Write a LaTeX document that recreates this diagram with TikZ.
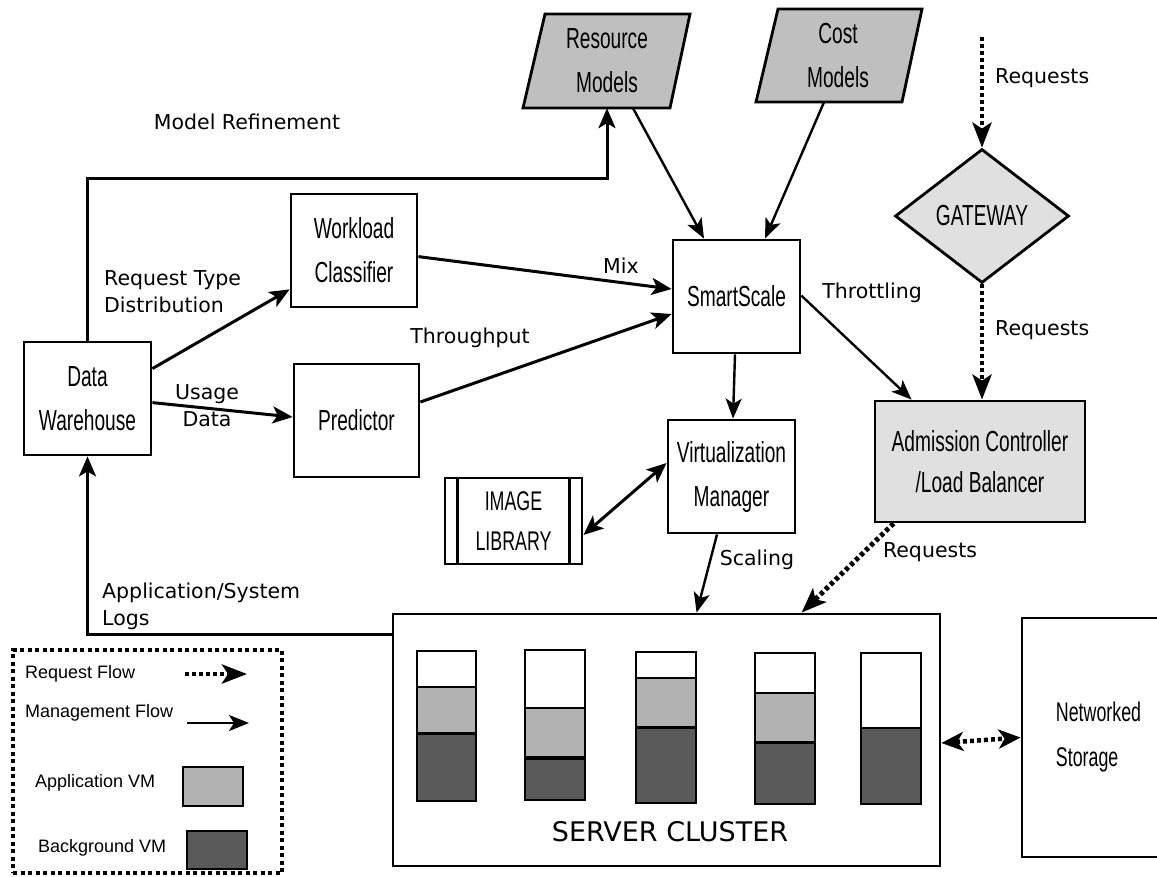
\documentclass[tikz,border=0pt]{standalone}
\usepackage{fontspec}
\setmainfont{DejaVu Sans}
\newfontfamily\nodefont[FakeStretch=0.66]{Liberation Sans}
\newfontfamily\legfont{Liberation Sans}
\usetikzlibrary{arrows.meta,shapes.geometric,calc}
\definecolor{modelgray}{gray}{0.75}
\definecolor{palegray}{gray}{0.88}
\definecolor{appgray}{gray}{0.70}
\definecolor{bggray}{gray}{0.35}
\begin{document}
\begin{tikzpicture}[x=1pt,y=-1pt,
  box/.style={draw, line width=2.8pt, inner sep=0pt, align=center,
    font=\nodefont\fontsize{29}{44}\selectfont},
  txt/.style={inner sep=0pt, align=center, font=\nodefont\fontsize{29}{44}\selectfont},
  lbl/.style={inner sep=0pt, align=left, font=\fontsize{20.5}{27}\selectfont},
  leg/.style={inner sep=0pt, anchor=west, font=\legfont\fontsize{18}{20}\selectfont},
  mgmt/.style={line width=3pt, -{Stealth[length=20pt,width=17pt,inset=5pt]}},
  mgmtthin/.style={line width=2.4pt, -{Stealth[length=20pt,width=16pt,inset=5pt]}},
  req/.style={line width=4.5pt, dash pattern=on 4pt off 3pt, -{Stealth[length=25pt,width=19pt,inset=6pt]}},
  bar/.style={draw, line width=2.5pt},
]
\useasboundingbox (0,0) rectangle (1157,876);

% ---------- model parallelograms ----------
\draw[line width=2.8pt, fill=modelgray] (545,14) -- (690,14) -- (670,108) -- (523,108) -- cycle;
\node[txt, minimum height=94pt] (rm) at (607,61) {Resource\\Models};
\draw[line width=2.8pt, fill=modelgray] (778,9) -- (922,9) -- (902,102) -- (756,102) -- cycle;
\node[txt, minimum height=93pt] (cm) at (838,55.5) {Cost\\Models};

% ---------- boxes ----------
\node[box, minimum width=127pt, minimum height=113pt] (dw) at (87.5,398.5) {Data\\Warehouse};
\node[box, minimum width=126pt, minimum height=113pt] (wc) at (354,250.5) {Workload\\Classifier};
\node[box, minimum width=125pt, minimum height=113pt] (pred) at (356.5,420.5) {Predictor};
\node[box, minimum width=127pt, minimum height=113pt] (ss) at (736.5,296.5) {SmartScale};
\node[box, minimum width=127pt, minimum height=113pt] (vm) at (731.5,476.5) {Virtualization\\Manager};
\node[box, fill=palegray, minimum width=210pt, minimum height=121pt,
  font=\nodefont\fontsize{29}{41}\selectfont] (ac) at (980,461.5) {Admission Controller\\/Load Balancer};
\node[box, minimum width=137pt, minimum height=86pt,
  font=\nodefont\fontsize{27}{40}\selectfont] (il) at (513.5,521) {IMAGE\\LIBRARY};
\draw[line width=2.8pt] ([xshift=14pt]il.north west) -- ([xshift=14pt]il.south west);
\draw[line width=2.8pt] ([xshift=-14pt]il.north east) -- ([xshift=-14pt]il.south east);
\node[diamond, draw, fill=palegray, line width=2.8pt, inner sep=0pt,
  minimum width=174pt, minimum height=134pt,
  font=\nodefont\fontsize{29}{44}\selectfont] (gw) at (982,216) {GATEWAY};
\node[draw, line width=2.8pt, minimum width=547pt, minimum height=252pt] (sc) at (666.5,740) {};
\node[inner sep=0pt, font=\fontsize{27}{30}\selectfont] (sctitle) at (670,832) {SERVER CLUSTER};
\node[box, align=left, minimum width=153pt, minimum height=239pt,
  font=\nodefont\fontsize{27}{45}\selectfont] (ns) at (1098.5,737.5) {Networked\\Storage};

% ---------- server bars ----------
\draw[bar, fill=white]   (417,651) rectangle (476,687);
\draw[bar, fill=appgray] (417,687) rectangle (476,733);
\draw[bar, fill=bggray]  (417,734) rectangle (476,801);
\draw[bar, fill=white]   (525,650) rectangle (585,708);
\draw[bar, fill=appgray] (525,708) rectangle (585,757);
\draw[bar, fill=bggray]  (525,759) rectangle (585,800);
\draw[bar, fill=white]   (636,652) rectangle (696,678);
\draw[bar, fill=appgray] (636,678) rectangle (696,727);
\draw[bar, fill=bggray]  (636,728) rectangle (696,803);
\draw[bar, fill=white]   (755,653) rectangle (815,693);
\draw[bar, fill=appgray] (755,693) rectangle (815,742);
\draw[bar, fill=bggray]  (755,743) rectangle (815,804);
\draw[bar, fill=white]   (861,653) rectangle (921,728);
\draw[bar, fill=bggray]  (861,728) rectangle (921,804);

% ---------- connectors ----------
\coordinate (mrcorner) at (607,178);
\draw[mgmt] (dw.north) |- (mrcorner) -- (rm.south);
\draw[mgmt] ([yshift=-28pt]dw.north east) -- ([yshift=19pt]wc.south west);
\draw[mgmt] ([yshift=-62pt]dw.north east) -- ([yshift=3.5pt]pred.west);
\draw[mgmt] ([yshift=-64pt]wc.north east) -- ([yshift=7.5pt]ss.west);
\draw[mgmt] ([yshift=18.5pt]pred.east) -- ([yshift=-17.5pt]ss.west);
\draw[mgmtthin] ([xshift=26pt]rm.south) -- ([xshift=-32.5pt]ss.north);
\draw[mgmtthin] ([xshift=-14pt]cm.south) -- ([xshift=28.5pt]ss.north);
\draw[mgmtthin] ([yshift=-57pt]ss.north east) -- ([xshift=38pt]ac.north west);
\draw[mgmtthin] ([xshift=-1.5pt]ss.south) -- ([xshift=1.5pt]vm.north);
\draw[line width=3pt, {Stealth[length=20pt,width=17pt,inset=5pt]}-{Stealth[length=20pt,width=17pt,inset=5pt]}]
  ([yshift=-14pt]il.east) -- ([yshift=13.5pt]vm.west);
\draw[mgmtthin] ([xshift=-14.5pt]vm.south) -- ([xshift=305pt]sc.north west);
\draw[req, line width=5pt] ([xshift=20pt]ac.south west) -- ([xshift=410pt]sc.north west);
\coordinate (reqtop) at (982,37);
\draw[req] (reqtop) -- (gw.north);
\draw[req] (gw.south) -- (gw.south |- ac.north);
\draw[line width=4.5pt, dash pattern=on 4pt off 3pt,
  {Stealth[length=22pt,width=19pt,inset=6pt]}-{Stealth[length=22pt,width=19pt,inset=6pt]}]
  ([yshift=-3pt]sc.east) -- (ns.west);
\draw[mgmt] ([yshift=-22pt]sc.north west) -| (dw.south);

% ---------- labels ----------
\node[lbl] (lmr) at (247,122) {Model Refinement};
\node[lbl, anchor=west] (lrt) at (104,292) {Request Type\\Distribution};
\node[lbl, align=center] (lud) at (207,406) {Usage\\Data};
\node[lbl] (lmix) at (621,266) {Mix};
\node[lbl] (lthr) at (470,338) {Throughput};
\node[lbl] (ltht) at (872,293) {Throttling};
\node[lbl, anchor=west] (lrq1) at (995,78) {Requests};
\node[lbl, anchor=west] (lrq2) at (995,330) {Requests};
\node[lbl] (lsca) at (757,560) {Scaling};
\node[lbl] (lrq3) at (930,552) {Requests};
\node[lbl, anchor=west] (llog) at (102,606) {Application/System\\Logs};

% ---------- legend ----------
\node[draw, line width=4pt, dash pattern=on 4pt off 3.5pt, minimum width=269pt, minimum height=223pt] (legend) at (147.5,761.5) {};
\node[leg] (lgreq) at (25,674) {Request Flow};
\coordinate (lg1a) at (185,674);
\coordinate (lg1b) at (247,674);
\draw[req] (lg1a) -- (lg1b);
\node[leg] (lgman) at (25,713) {Management Flow};
\coordinate (lg2a) at (187,723);
\coordinate (lg2b) at (249,723);
\draw[mgmtthin] (lg2a) -- (lg2b);
\node[leg] (lgapp) at (35,783) {Application VM};
\draw[bar, fill=appgray] (183,767) rectangle (243,806);
\node[leg] (lgbg) at (38,848) {Background VM};
\draw[bar, fill=bggray] (187,831) rectangle (247,869);
\end{tikzpicture}
\end{document}
